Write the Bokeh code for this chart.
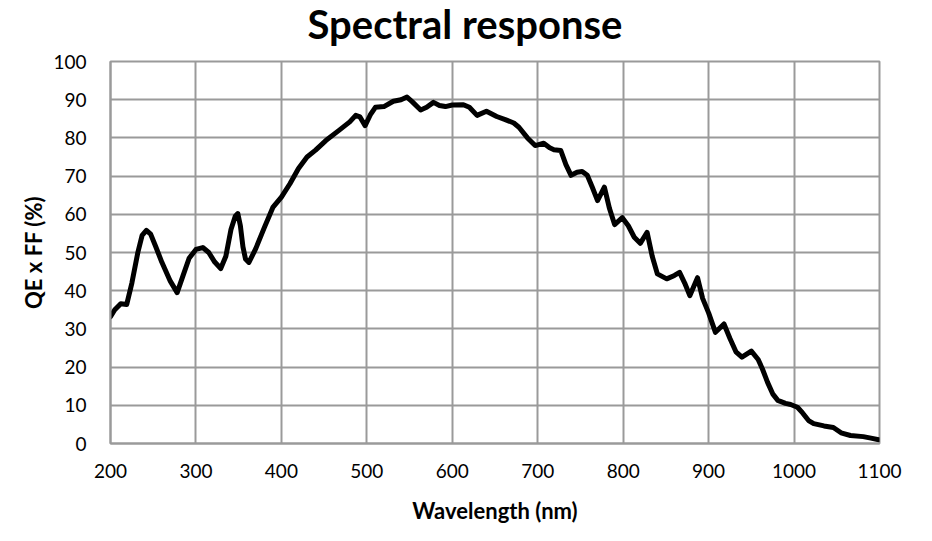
from bokeh.plotting import figure
from bokeh.embed import file_html
from bokeh.resources import INLINE
from bokeh.models import FixedTicker, Range1d, Div
from bokeh.layouts import column

wavelength = [200, 205, 212, 219, 225, 232, 237, 242, 247, 253, 260, 270, 278, 285, 292, 300, 308, 315, 322, 329,
              335, 341, 346, 349, 352, 355, 358, 362, 370, 380, 390, 400, 410, 420, 430, 440, 452, 467, 480, 487,
              492, 498, 504, 510, 520, 531, 540, 547, 553, 563, 570, 578, 585, 592, 600, 613, 620, 629,
              640, 652, 662, 672, 678, 688, 697, 707, 714, 719, 727, 733, 739, 746, 752, 758, 764, 770,
              778, 784, 790, 799, 806, 813, 820, 828, 834, 840, 851, 860, 866, 872, 878, 887, 893, 900,
              908, 918, 925, 932, 939, 950, 958, 963, 969, 975, 981, 990, 996, 1004, 1010, 1017, 1023,
              1035, 1046, 1055, 1066, 1081, 1090, 1099]
qe_ff = [33.2, 35.0, 36.6, 36.4, 42.0, 50.0, 54.5, 55.8, 54.8, 51.5, 47.5, 42.5, 39.5, 44.0, 48.5, 50.8, 51.3, 50.0,
         47.5, 45.8, 49.0, 56.0, 59.5, 60.2, 57.0, 51.5, 48.3, 47.4, 51.0, 56.5, 61.8, 64.5, 68.0, 72.0, 75.0, 76.8,
         79.3, 81.9, 84.2, 85.9, 85.5, 83.2, 86.0, 88.0, 88.2, 89.6, 90.0, 90.7, 89.5, 87.3, 88.0, 89.3,
         88.5, 88.2, 88.6, 88.7, 88.0, 85.9, 87.0, 85.6, 84.8, 83.9, 82.8, 80.0, 78.0, 78.6, 77.4, 76.9,
         76.7, 73.0, 70.2, 71.0, 71.2, 70.2, 67.0, 63.6, 67.1, 61.5, 57.3, 59.1, 57.0, 54.0, 52.4, 55.3,
         49.0, 44.4, 43.1, 44.0, 44.8, 42.0, 38.7, 43.4, 38.0, 34.2, 29.1, 31.3, 27.5, 24.0, 22.6, 24.2,
         22.0, 19.5, 16.0, 13.0, 11.3, 10.5, 10.2, 9.5, 8.0, 6.0, 5.2, 4.6, 4.2, 2.8, 2.1, 1.8, 1.4, 1.0]

x_ticks = [200, 300, 400, 500, 600, 700, 800, 900, 1000, 1100]
y_ticks = [0, 10, 20, 30, 40, 50, 60, 70, 80, 90, 100]
title_text = "Spectral response"

FONT = "Lato"
GRID = "#9a9a9a"

title = Div(text=title_text, width=924, height=48, margin=0,
            styles={"font-family": "Lato", "font-weight": "bold", "font-size": "40px",
                    "text-align": "center", "line-height": "48px", "color": "black",
                    "padding-left": "6px", "width": "924px", "box-sizing": "border-box"})

p = figure(width=924, height=485, output_backend="svg", toolbar_location=None,
           x_range=Range1d(200, 1100), y_range=Range1d(0, 100),
           frame_width=769, frame_height=382, margin=0,
           min_border_left=110, min_border_right=45, min_border_top=13, min_border_bottom=90)

p.line(wavelength, qe_ff, line_color="black", line_width=5, line_join="round", line_cap="round")

for ax in (p.xaxis, p.yaxis):
    ax.axis_line_color = GRID
    ax.axis_line_width = 2
    ax.major_tick_line_color = None
    ax.minor_tick_line_color = None
    ax.major_label_text_font = FONT
    ax.major_label_text_font_size = "19px"
    ax.major_label_text_color = "black"
    ax.axis_label_text_font = FONT
    ax.axis_label_text_font_size = "22px"
    ax.axis_label_text_font_style = "bold"
    ax.axis_label_text_color = "black"

p.xaxis.ticker = FixedTicker(ticks=x_ticks)
p.yaxis.ticker = FixedTicker(ticks=y_ticks)
p.xaxis.axis_label = "Wavelength (nm)"
p.yaxis.axis_label = "QE x FF (%)"
p.xaxis.major_label_standoff = 14
p.yaxis.major_label_standoff = 18
p.xaxis.axis_label_standoff = 16
p.yaxis.axis_label_standoff = 3

p.xgrid.ticker = FixedTicker(ticks=x_ticks)
p.ygrid.ticker = FixedTicker(ticks=y_ticks)
p.grid.grid_line_color = GRID
p.grid.grid_line_width = 2
p.outline_line_color = GRID
p.outline_line_width = 2
p.background_fill_color = "white"
p.border_fill_color = "white"

layout = column(title, p, spacing=0, margin=0)

open("out.html", "w").write(file_html(layout, INLINE))
